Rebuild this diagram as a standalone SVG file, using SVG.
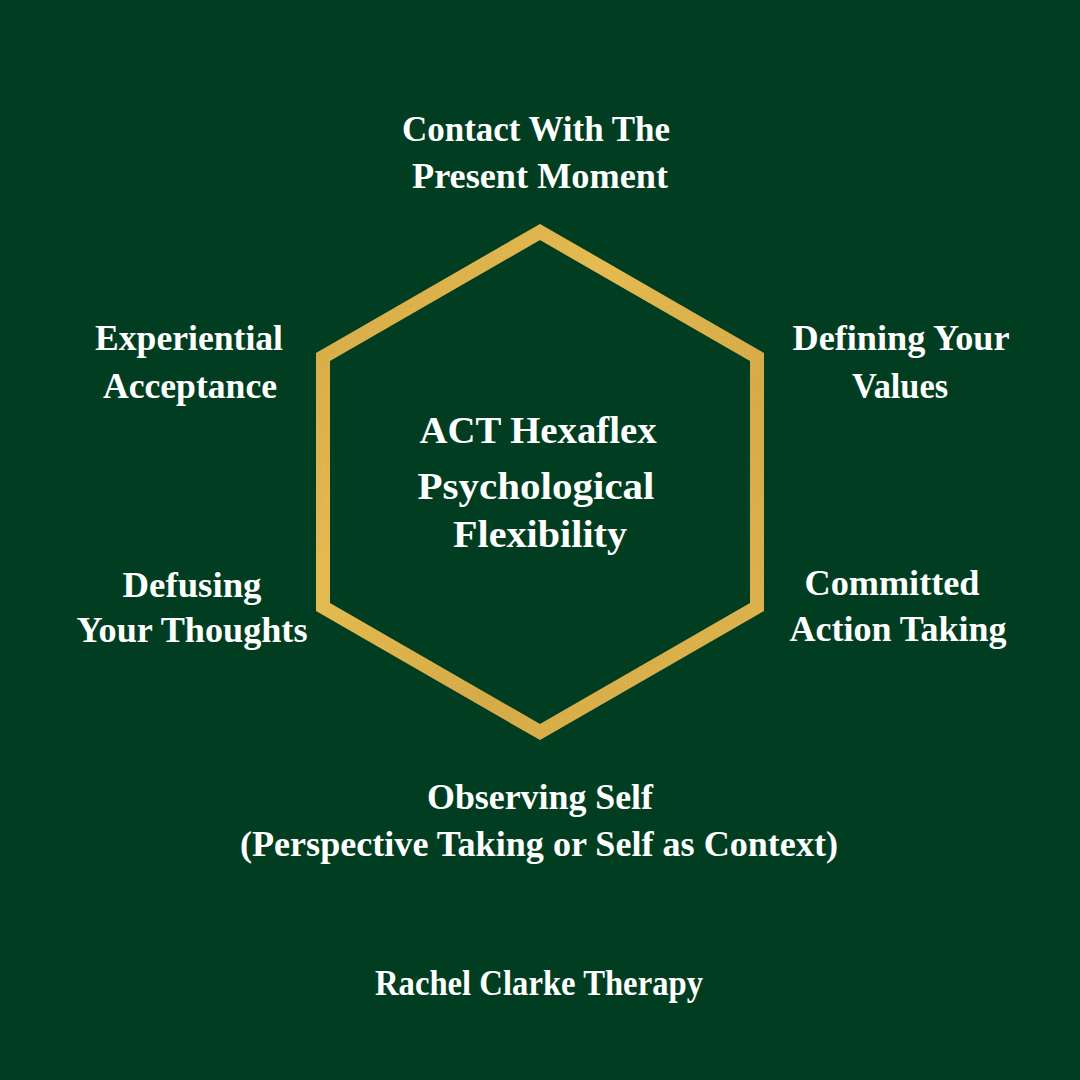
<svg xmlns="http://www.w3.org/2000/svg" width="1080" height="1080" viewBox="0 0 1080 1080">
  <defs>
    <linearGradient id="gold" x1="0" y1="0" x2="1" y2="1">
      <stop offset="0" stop-color="#cf9c22"/>
      <stop offset="0.35" stop-color="#e2b437"/>
      <stop offset="0.65" stop-color="#d1a127"/>
      <stop offset="1" stop-color="#dcad33"/>
    </linearGradient>
    <filter id="grain" x="-5%" y="-5%" width="110%" height="110%">
      <feTurbulence type="fractalNoise" baseFrequency="0.9" numOctaves="2" seed="3" result="n"/>
      <feColorMatrix in="n" type="matrix" values="0 0 0 0 0.95  0 0 0 0 0.82  0 0 0 0 0.45  0 0 0 0.22 0" result="nc"/>
      <feComposite in="nc" in2="SourceGraphic" operator="in" result="g"/>
      <feMerge><feMergeNode in="SourceGraphic"/><feMergeNode in="g"/></feMerge>
    </filter>
    <style>
      .lbl { font-family: "Liberation Serif", "DejaVu Serif", serif; font-weight: bold; font-size: 35px; fill: #ffffff; text-anchor: middle; }
      .ctr { font-size: 38px; }
      .hex { fill: none; stroke: url(#gold); stroke-width: 14; stroke-linejoin: miter; }
    </style>
  </defs>
  <rect x="0" y="0" width="1080" height="1080" fill="#013e21"/>

  <g id="connectors">
    <polygon id="hexagon" class="hex" filter="url(#grain)" points="540,232 757,357 757,607 540,732 323,607 323,357"/>
  </g>

  <g id="node-center">
    <text class="lbl ctr" x="538" y="443" textLength="237" lengthAdjust="spacingAndGlyphs">ACT Hexaflex</text>
    <text class="lbl ctr" x="536" y="499" textLength="237" lengthAdjust="spacingAndGlyphs">Psychological</text>
    <text class="lbl ctr" x="540" y="547" textLength="174" lengthAdjust="spacingAndGlyphs">Flexibility</text>
  </g>

  <g id="node-present-moment">
    <text class="lbl" x="536" y="141" textLength="268" lengthAdjust="spacingAndGlyphs">Contact With The</text>
    <text class="lbl" x="540" y="188" textLength="256" lengthAdjust="spacingAndGlyphs">Present Moment</text>
  </g>

  <g id="node-acceptance">
    <text class="lbl" x="189" y="350" textLength="188" lengthAdjust="spacingAndGlyphs">Experiential</text>
    <text class="lbl" x="190" y="398" textLength="174" lengthAdjust="spacingAndGlyphs">Acceptance</text>
  </g>

  <g id="node-values">
    <text class="lbl" x="901" y="350" textLength="217" lengthAdjust="spacingAndGlyphs">Defining Your</text>
    <text class="lbl" x="900" y="398" textLength="96" lengthAdjust="spacingAndGlyphs">Values</text>
  </g>

  <g id="node-defusion">
    <text class="lbl" x="192" y="597" textLength="139" lengthAdjust="spacingAndGlyphs">Defusing</text>
    <text class="lbl" x="192" y="642" textLength="231" lengthAdjust="spacingAndGlyphs">Your Thoughts</text>
  </g>

  <g id="node-committed-action">
    <text class="lbl" x="892" y="595" textLength="175" lengthAdjust="spacingAndGlyphs">Committed</text>
    <text class="lbl" x="898" y="641" textLength="217" lengthAdjust="spacingAndGlyphs">Action Taking</text>
  </g>

  <g id="node-observing-self">
    <text class="lbl" x="540" y="809" textLength="226" lengthAdjust="spacingAndGlyphs">Observing Self</text>
    <text class="lbl" x="539" y="856" textLength="598" lengthAdjust="spacingAndGlyphs">(Perspective Taking or Self as Context)</text>
  </g>

  <g id="footer">
    <text class="lbl" x="539" y="995" textLength="328" lengthAdjust="spacingAndGlyphs">Rachel Clarke Therapy</text>
  </g>
</svg>
